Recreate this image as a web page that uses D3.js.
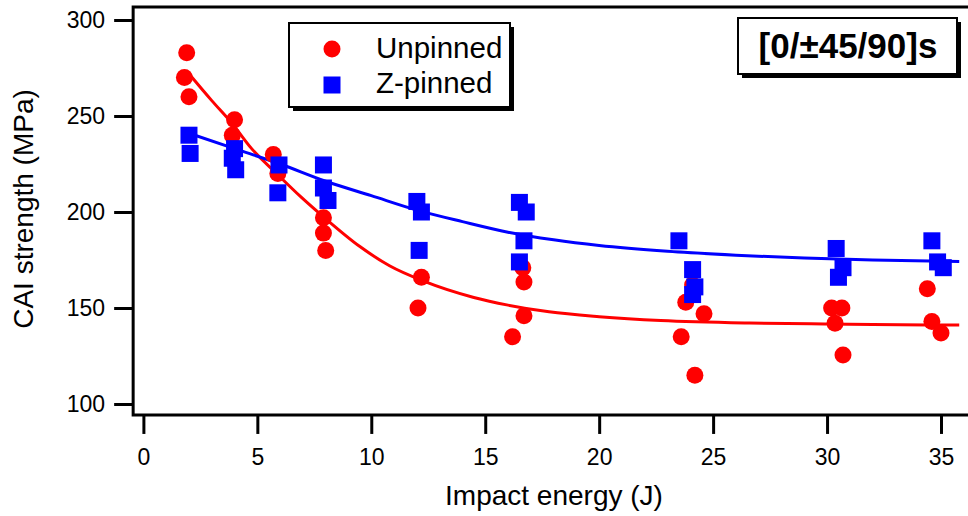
<!DOCTYPE html>
<meta charset="utf-8">
<body style="margin:0;background:#fff">
<script src="https://d3js.org/d3.v7.min.js"></script>
<script>

// ---- data ----
var unpinnedEnergy = [1.8, 1.9, 2.0, 4.0, 3.9, 5.7, 5.9, 7.9, 7.9, 8.0, 12.2, 12.05, 16.65, 16.7, 16.7, 16.2, 23.8, 24.6, 23.6, 24.2, 24.1, 30.2, 30.65, 30.35, 30.7, 34.4, 34.6, 35.0];
var unpinnedCAI    = [270, 283, 260, 248, 240, 230, 220, 197, 189, 180, 166, 150, 171, 163.5, 146, 135, 153, 147, 135, 115, 162, 150, 150, 142, 125.5, 160, 143, 137];

var pinnedEnergy = [2.0, 2.05, 4.0, 3.9, 4.05, 5.95, 5.9, 7.9, 7.9, 8.1, 12.0, 12.2, 12.1, 16.5, 16.8, 16.7, 16.5, 23.5, 24.1, 24.2, 24.1, 30.4, 30.7, 30.5, 34.6, 34.85, 35.1];
var pinnedCAI    = [240, 230.5, 233, 228, 222, 224.5, 210, 224.5, 212.5, 206, 205.5, 200, 180, 205, 200, 185, 174, 185, 170, 161, 157, 181, 171, 166, 185, 174, 171];

// fitted curves
var unpinnedFitE = [2.0, 3.0, 3.9, 4.75, 5.85, 6.9, 7.9, 9.5, 10.8, 12.3, 14.5, 16.0, 17.8, 20.0, 22.7, 26.6, 29.3, 32.0, 35.8];
var unpinnedFitV = [272, 258, 246, 233, 220, 208, 197.5, 182, 172, 164, 155.5, 151.5, 148, 145.5, 143.5, 142.2, 141.8, 141.4, 141.1];
var pinnedFitE = [2.0, 4.0, 6.0, 8.0, 10.0, 12.0, 14.0, 16.0, 18.0, 20.0, 23.0, 26.0, 29.0, 32.0, 35.8];
var pinnedFitV = [241, 233, 225, 216, 208.5, 201, 195, 189.5, 185.5, 182.5, 179.5, 177.5, 176, 175, 174.2];

var xTicks = [0, 5, 10, 15, 20, 25, 30, 35];
var yTicks = [100, 150, 200, 250, 300];

var width = 968, height = 516;
var font = "Liberation Sans, Arial, sans-serif";

var svg = d3.select("body").append("svg")
    .attr("width", width)
    .attr("height", height)
    .style("font-family", font);

var x = d3.scaleLinear().domain([0, 35]).range([143.4, 941]);
var y = d3.scaleLinear().domain([100, 300]).range([404, 20]);

var plotLeft = x(-0.45), plotRight = width + 5, plotTop = y(306.8), plotBottom = y(94.3);

// frame (left, top, bottom)
svg.append("path")
    .attr("d", "M" + plotRight + "," + plotTop + "H" + plotLeft + "V" + plotBottom + "H" + plotRight)
    .attr("fill", "none")
    .attr("stroke", "#000")
    .attr("stroke-width", 3);

// x axis
var gx = svg.append("g")
    .attr("transform", "translate(0," + plotBottom + ")")
    .call(d3.axisBottom(x).tickValues(xTicks).tickSize(19).tickPadding(15));
// y axis
var gy = svg.append("g")
    .attr("transform", "translate(" + plotLeft + ",0)")
    .call(d3.axisLeft(y).tickValues(yTicks).tickSize(19).tickPadding(9));

[gx, gy].forEach(function(g) {
  g.select(".domain").remove();
  g.selectAll("line").attr("stroke", "#000").attr("stroke-width", 3);
  g.selectAll("text").attr("fill", "#000").style("font-family", font).style("font-size", "23px");
});

// axis titles
svg.append("text")
    .attr("x", 554)
    .attr("y", 505)
    .attr("text-anchor", "middle")
    .style("font-size", "28px")
    .text("Impact energy (J)");

svg.append("text")
    .attr("transform", "translate(33,209) rotate(-90)")
    .attr("text-anchor", "middle")
    .style("font-size", "28px")
    .text("CAI strength (MPa)");

// fit lines
var line = d3.line()
    .curve(d3.curveMonotoneX)
    .x(function(d) { return x(d[0]); })
    .y(function(d) { return y(d[1]); });

svg.append("path")
    .datum(d3.zip(unpinnedFitE, unpinnedFitV))
    .attr("d", line)
    .attr("fill", "none")
    .attr("stroke", "#ff0000")
    .attr("stroke-width", 3);

svg.append("path")
    .datum(d3.zip(pinnedFitE, pinnedFitV))
    .attr("d", line)
    .attr("fill", "none")
    .attr("stroke", "#0000ff")
    .attr("stroke-width", 3);

// markers
svg.selectAll(".unpinned")
    .data(d3.zip(unpinnedEnergy, unpinnedCAI))
  .enter().append("circle")
    .attr("class", "unpinned")
    .attr("cx", function(d) { return x(d[0]); })
    .attr("cy", function(d) { return y(d[1]); })
    .attr("r", 8.5)
    .attr("fill", "#ff0000");

var sq = 17;
svg.selectAll(".pinned")
    .data(d3.zip(pinnedEnergy, pinnedCAI))
  .enter().append("rect")
    .attr("class", "pinned")
    .attr("x", function(d) { return x(d[0]) - sq / 2; })
    .attr("y", function(d) { return y(d[1]) - sq / 2; })
    .attr("width", sq)
    .attr("height", sq)
    .attr("fill", "#0000ff");

// boxes with a drop shadow
function shadowBox(x0, y0, w, h) {
  svg.append("rect").attr("x", x0 + 4).attr("y", y0 + 4).attr("width", w).attr("height", h).attr("fill", "#000");
  svg.append("rect").attr("x", x0).attr("y", y0).attr("width", w).attr("height", h)
      .attr("fill", "#fff").attr("stroke", "#000").attr("stroke-width", 2);
}

// legend
shadowBox(289, 23, 221, 84);
svg.append("circle").attr("cx", 332).attr("cy", 49).attr("r", 8.5).attr("fill", "#ff0000");
svg.append("rect").attr("x", 332 - sq / 2).attr("y", 85 - sq / 2).attr("width", sq).attr("height", sq).attr("fill", "#0000ff");
svg.append("text").attr("x", 376).attr("y", 58).style("font-size", "29.5px").text("Unpinned");
svg.append("text").attr("x", 376).attr("y", 93).style("font-size", "29.5px").text("Z-pinned");

// layup label
shadowBox(738, 18, 219, 56);
svg.append("text")
    .attr("x", 848)
    .attr("y", 58)
    .attr("text-anchor", "middle")
    .style("font-size", "35px")
    .style("font-weight", "bold")
    .text("[0/±45/90]s");

</script>
